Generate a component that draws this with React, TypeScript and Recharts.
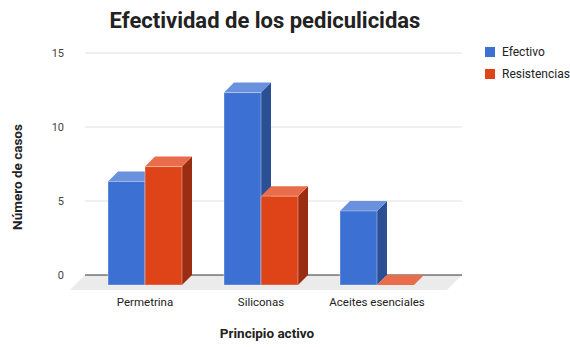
import React from 'react'
import { BarChart, Bar, XAxis, YAxis, CartesianGrid } from 'recharts'

const categories = ['Permetrina', 'Siliconas', 'Aceites esenciales']
const efectivo = [7, 13, 5]
const resistencias = [8, 6, 0]
const yTicks = [0, 5, 10, 15]

const data = categories.map((name, i) => ({
  name,
  efectivo: efectivo[i],
  resistencias: resistencias[i],
}))

const W = 570
const H = 347
const MARGIN = { top: 53, right: 108, bottom: 0, left: 0 }
const X_AXIS_H = 72
const Y_AXIS_W = 85
const PLOT_BOTTOM = H - MARGIN.bottom - X_AXIS_H
const DEPTH = 10
const FLOOR = 15

const FONT = 'Roboto, Arial, sans-serif'

const BLUE = { front: '#3c70d3', top: '#6a91de', side: '#2b4f95' }
const RED = { front: '#de4418', top: '#ea6d4b', side: '#9b2d12' }

function make3DBar(c: { front: string; top: string; side: string }) {
  return (props: any) => {
    const { x, y, width, height } = props
    const h = Math.max(height || 0, 0)
    const fx = x - DEPTH
    const fy = y + DEPTH
    return (
      <g>
        <polygon
          points={`${x + width - DEPTH},${fy} ${x + width},${y} ${x + width},${y + h} ${x + width - DEPTH},${fy + h}`}
          fill={c.side}
        />
        <polygon
          points={`${fx},${fy} ${x},${y} ${x + width},${y} ${x + width - DEPTH},${fy}`}
          fill={c.top}
        />
        {h > 0 && (
          <rect x={fx} y={fy} width={width} height={h} fill={c.front} stroke="#ffffff" strokeOpacity={0.35} strokeWidth={1} />
        )}
      </g>
    )
  }
}

// gridlines sit on the back wall; the zero line also gets the floor slab
function GridLine(props: any) {
  const { x1, x2, y1 } = props
  if (Math.abs(y1 - PLOT_BOTTOM) < 1) {
    return (
      <g>
        <polygon
          points={`${x1},${y1} ${x2},${y1} ${x2 - FLOOR},${y1 + FLOOR} ${x1 - FLOOR},${y1 + FLOOR}`}
          fill="#ebebeb"
        />
        <line x1={x1} x2={x2} y1={y1} y2={y1} stroke="#333333" strokeWidth={1} />
      </g>
    )
  }
  return <line x1={x1} x2={x2} y1={y1} y2={y1} stroke="#e0e0e0" strokeWidth={1} />
}

function XTick(props: any) {
  const { x, payload } = props
  return (
    <text x={x - DEPTH} y={PLOT_BOTTOM + 31} textAnchor="middle" fontSize={11.5} fill="#222222" fontFamily={FONT}>
      {payload.value}
    </text>
  )
}

function YTick(props: any) {
  const { y, payload } = props
  return (
    <text x={64} y={y + 4} textAnchor="end" fontSize={11} fill="#444444" fontFamily={FONT}>
      {payload.value}
    </text>
  )
}

const legend = [
  { label: 'Efectivo', color: BLUE.front },
  { label: 'Resistencias', color: RED.front },
]

export default function App() {
  return (
    <div style={{ position: 'absolute', left: 0, top: 0, width: W, height: H, background: '#ffffff', fontFamily: FONT }}>
      <div
        style={{
          position: 'absolute',
          left: 0,
          width: 530,
          top: 8,
          textAlign: 'center',
          fontSize: 22,
          fontWeight: 700,
          color: '#222222',
        }}
      >
        Efectividad de los pediculicidas
      </div>
      <BarChart width={W} height={H} data={data} margin={MARGIN} barGap={0}>
        <CartesianGrid vertical={false} horizontal={GridLine as any} />
        <XAxis
          dataKey="name"
          height={X_AXIS_H}
          axisLine={false}
          tickLine={false}
          padding={{ left: 12, right: 17 }}
          tick={XTick}
          interval={0}
        />
        <YAxis
          width={Y_AXIS_W}
          domain={[0, 15]}
          ticks={yTicks}
          axisLine={false}
          tickLine={false}
          tick={YTick}
        />
        <Bar dataKey="efectivo" barSize={37} shape={make3DBar(BLUE)} isAnimationActive={false} />
        <Bar dataKey="resistencias" barSize={37} shape={make3DBar(RED)} isAnimationActive={false} />
      </BarChart>
      <div
        style={{
          position: 'absolute',
          left: 17,
          top: 177,
          transform: 'translate(-50%, -50%) rotate(-90deg)',
          whiteSpace: 'nowrap',
          fontSize: 13.5,
          fontWeight: 700,
          color: '#222222',
        }}
      >
        Número de casos
      </div>
      <div
        style={{
          position: 'absolute',
          left: 0,
          width: 534,
          top: 325,
          textAlign: 'center',
          fontSize: 13.5,
          fontWeight: 700,
          color: '#222222',
        }}
      >
        Principio activo
      </div>
      {legend.map((l, i) => (
        <div key={l.label} style={{ position: 'absolute', left: 485, top: 45 + i * 22, display: 'flex', alignItems: 'center' }}>
          <div style={{ width: 10, height: 10, background: l.color }} />
          <span style={{ marginLeft: 7, fontSize: 12, color: '#222222' }}>{l.label}</span>
        </div>
      ))}
    </div>
  )
}
